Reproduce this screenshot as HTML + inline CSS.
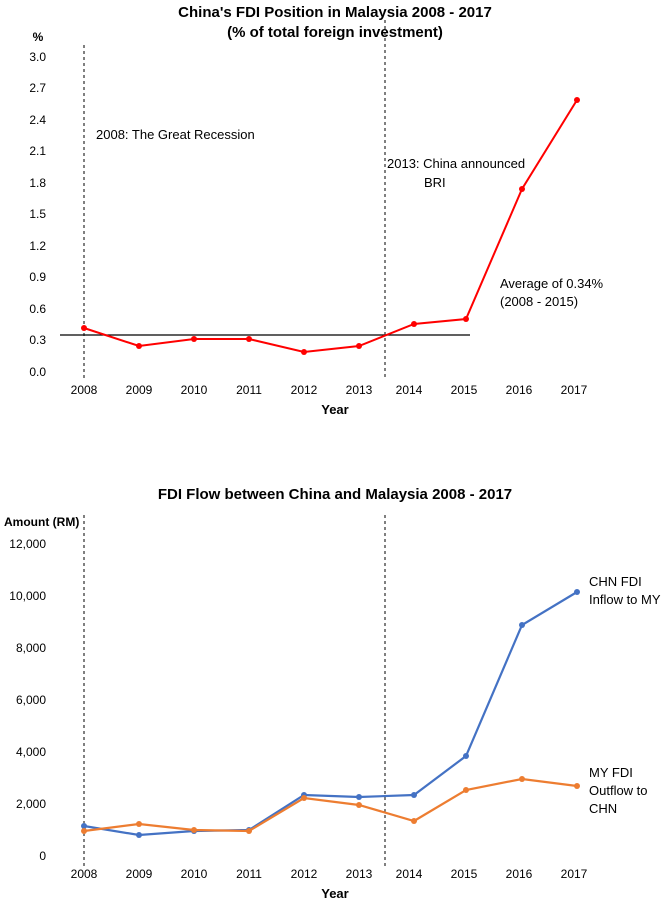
<!DOCTYPE html>
<html><head><meta charset="utf-8"><style>
html,body{margin:0;padding:0;background:#fff;}
svg{display:block;font-family:"Liberation Sans Narrow","Liberation Sans",Arial,sans-serif;}
</style></head><body>
<svg width="670" height="908" viewBox="0 0 670 908" xmlns="http://www.w3.org/2000/svg">
<!-- Top chart -->
<text x="335" y="17" font-size="15" font-weight="bold" text-anchor="middle">China's FDI Position in Malaysia 2008 - 2017</text>
<text x="335" y="37" font-size="15" font-weight="bold" text-anchor="middle">(% of total foreign investment)</text>
<text x="38" y="41" font-size="12" font-weight="bold" text-anchor="middle">%</text>
<g font-size="12" text-anchor="end" fill="#000">
<text x="46" y="61">3.0</text><text x="46" y="92">2.7</text><text x="46" y="124">2.4</text>
<text x="46" y="155">2.1</text><text x="46" y="187">1.8</text><text x="46" y="218">1.5</text>
<text x="46" y="250">1.2</text><text x="46" y="281">0.9</text><text x="46" y="313">0.6</text>
<text x="46" y="344">0.3</text><text x="46" y="376">0.0</text>
</g>
<g font-size="12" text-anchor="middle">
<text x="84" y="394">2008</text><text x="139" y="394">2009</text><text x="194" y="394">2010</text>
<text x="249" y="394">2011</text><text x="304" y="394">2012</text><text x="359" y="394">2013</text>
<text x="409" y="394">2014</text><text x="464" y="394">2015</text><text x="519" y="394">2016</text>
<text x="574" y="394">2017</text>
</g>
<text x="335" y="414" font-size="13" font-weight="bold" text-anchor="middle">Year</text>
<line x1="84" y1="45" x2="84" y2="380" stroke="#000" stroke-dasharray="3,3"/>
<line x1="385" y1="20" x2="385" y2="380" stroke="#000" stroke-dasharray="3,3"/>
<line x1="60" y1="335" x2="470" y2="335" stroke="#000" stroke-width="1.2"/>
<polyline fill="none" stroke="#ff0000" stroke-width="2" points="84,328 139,346 194,339 249,339 304,352 359,346 414,324 466,319 522,189 577,100"/>
<g fill="#ff0000">
<circle cx="84" cy="328" r="3"/><circle cx="139" cy="346" r="3"/><circle cx="194" cy="339" r="3"/>
<circle cx="249" cy="339" r="3"/><circle cx="304" cy="352" r="3"/><circle cx="359" cy="346" r="3"/>
<circle cx="414" cy="324" r="3"/><circle cx="466" cy="319" r="3"/><circle cx="522" cy="189" r="3"/>
<circle cx="577" cy="100" r="3"/>
</g>
<text x="96" y="139" font-size="13">2008: The Great Recession</text>
<text x="387" y="168" font-size="13">2013: China announced</text>
<text x="424" y="187" font-size="13">BRI</text>
<text x="500" y="288" font-size="13">Average of 0.34%</text>
<text x="500" y="306" font-size="13">(2008 - 2015)</text>

<!-- Bottom chart -->
<text x="335" y="499" font-size="15" font-weight="bold" text-anchor="middle">FDI Flow between China and Malaysia 2008 - 2017</text>
<text x="4" y="526" font-size="12" font-weight="bold">Amount (RM)</text>
<g font-size="12" text-anchor="end">
<text x="46" y="548">12,000</text><text x="46" y="600">10,000</text><text x="46" y="652">8,000</text>
<text x="46" y="704">6,000</text><text x="46" y="756">4,000</text><text x="46" y="808">2,000</text>
<text x="46" y="860">0</text>
</g>
<g font-size="12" text-anchor="middle">
<text x="84" y="878">2008</text><text x="139" y="878">2009</text><text x="194" y="878">2010</text>
<text x="249" y="878">2011</text><text x="304" y="878">2012</text><text x="359" y="878">2013</text>
<text x="409" y="878">2014</text><text x="464" y="878">2015</text><text x="519" y="878">2016</text>
<text x="574" y="878">2017</text>
</g>
<text x="335" y="898" font-size="13" font-weight="bold" text-anchor="middle">Year</text>
<line x1="84" y1="515" x2="84" y2="866" stroke="#000" stroke-dasharray="3,3"/>
<line x1="385" y1="515" x2="385" y2="866" stroke="#000" stroke-dasharray="3,3"/>
<polyline fill="none" stroke="#4472c4" stroke-width="2.2" points="84,826 139,835 194,831 249,830 304,795 359,797 414,795 466,756 522,625 577,592"/>
<g fill="#4472c4">
<circle cx="84" cy="826" r="3"/><circle cx="139" cy="835" r="3"/><circle cx="194" cy="831" r="3"/>
<circle cx="249" cy="830" r="3"/><circle cx="304" cy="795" r="3"/><circle cx="359" cy="797" r="3"/>
<circle cx="414" cy="795" r="3"/><circle cx="466" cy="756" r="3"/><circle cx="522" cy="625" r="3"/>
<circle cx="577" cy="592" r="3"/>
</g>
<polyline fill="none" stroke="#ed7d31" stroke-width="2.2" points="84,831 139,824 194,830 249,831 304,798 359,805 414,821 466,790 522,779 577,786"/>
<g fill="#ed7d31">
<circle cx="84" cy="831" r="3"/><circle cx="139" cy="824" r="3"/><circle cx="194" cy="830" r="3"/>
<circle cx="249" cy="831" r="3"/><circle cx="304" cy="798" r="3"/><circle cx="359" cy="805" r="3"/>
<circle cx="414" cy="821" r="3"/><circle cx="466" cy="790" r="3"/><circle cx="522" cy="779" r="3"/>
<circle cx="577" cy="786" r="3"/>
</g>
<text x="589" y="586" font-size="13">CHN FDI</text>
<text x="589" y="604" font-size="13">Inflow to MY</text>
<text x="589" y="777" font-size="13">MY FDI</text>
<text x="589" y="795" font-size="13">Outflow to</text>
<text x="589" y="813" font-size="13">CHN</text>
</svg>
</body></html>
